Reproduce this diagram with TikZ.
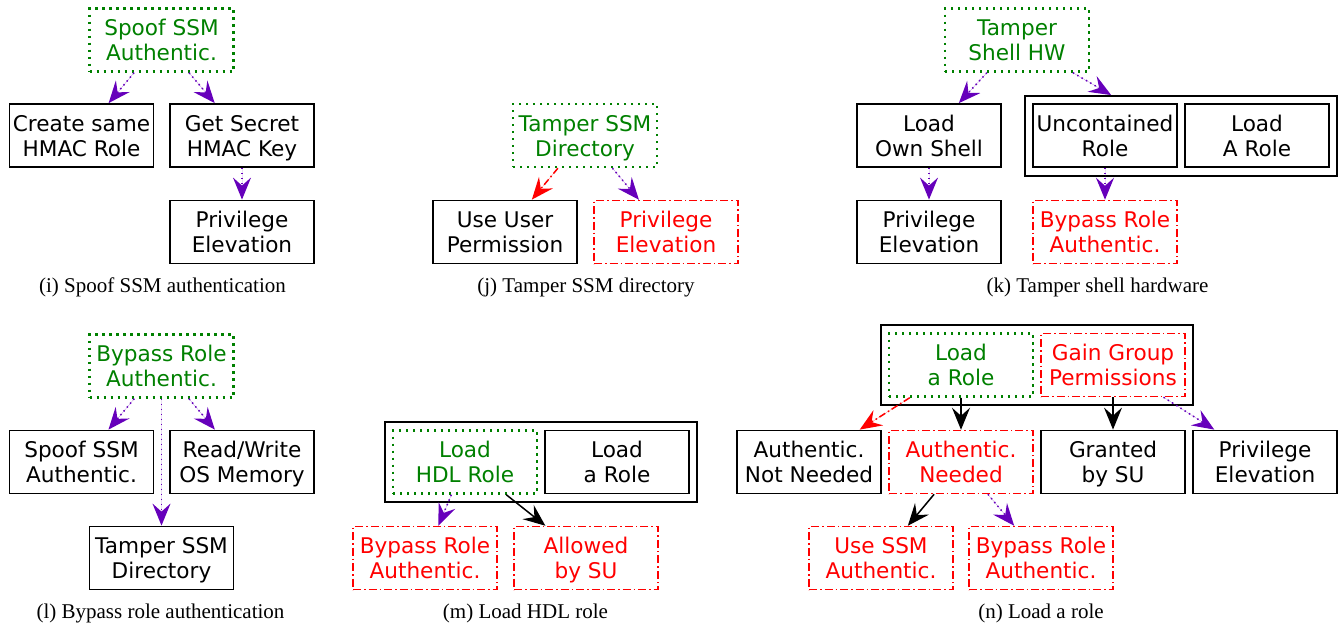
\documentclass[tikz,border=0pt]{standalone}
\usepackage{fontspec}
\setmainfont{Liberation Serif}
\newfontfamily\dejavu{DejaVu Sans}
\usetikzlibrary{arrows.meta}
\definecolor{pp}{RGB}{102,0,187}
\definecolor{gg}{RGB}{0,128,0}
\definecolor{rr}{RGB}{255,0,0}
\tikzset{
  box/.style={draw, line width=1.8pt, minimum width=144pt, minimum height=63pt, inner sep=0pt, align=center, text height=41pt, text depth=0pt, font=\dejavu\fontsize{21.6}{25}\selectfont},
  gbox/.style={box, draw=gg, text=gg, line width=2.4pt, dash pattern=on 2.4pt off 4.6pt},
  rbox/.style={box, draw=rr, text=rr, line width=1.5pt, dash pattern=on 8pt off 3pt on 1.5pt off 3pt},
  outer/.style={draw, line width=1.8pt, minimum width=312pt, minimum height=80pt, inner sep=0pt},
  arrowtip/.style={-{Stealth[length=22pt, width=18pt, inset=8pt]}},
  parrow/.style={arrowtip, draw=pp, fill=pp, line width=1.5pt, dash pattern=on 1.5pt off 3.5pt},
  rarrow/.style={arrowtip, draw=rr, fill=rr, line width=1.5pt, dash pattern=on 7pt off 3pt on 1.5pt off 3pt},
  barrow/.style={arrowtip, draw=black, fill=black, line width=1.5pt},
  captxt/.style={anchor=base, inner sep=0pt, font=\fontsize{21}{24}\selectfont},
}
\begin{document}
\begin{tikzpicture}[x=1pt, y=-1pt]
\useasboundingbox (0,0) rectangle (1344,627);
% (i)
\node[gbox] (i0) at (161.5,40) {Spoof SSM\\Authentic.};
\node[box] (i1) at (81.5,135.5) {Create same\\HMAC Role};
\node[box] (i2) at (242,135.5) {Get Secret\\HMAC Key};
\node[box] (i3) at (242,232) {Privilege\\Elevation};
\draw[parrow] (i0) -- (i1);
\draw[parrow] (i0) -- (i2);
\draw[parrow] (i2) -- (i3);
\node[captxt] (ci) at (162.5,292) {(i) Spoof SSM authentication};
% (j)
\node[gbox] (j0) at (585,135.5) {Tamper SSM\\Directory};
\node[box] (j1) at (505,232) {Use User\\Permission};
\node[rbox] (j2) at (666,232) {Privilege\\Elevation};
\draw[rarrow] (j0) -- (j1);
\draw[parrow] (j0) -- (j2);
\node[captxt] (cj) at (586,292) {(j) Tamper SSM directory};
% (k)
\node[gbox] (k0) at (1017,40) {Tamper\\Shell HW};
\node[box] (k1) at (929,135.5) {Load\\Own Shell};
\node[outer] (ko) at (1181,136) {};
\node[box] (k2) at (1105,135.5) {Uncontained\\Role};
\node[box] (k3) at (1257,135.5) {Load\\A Role};
\node[box] (k4) at (929,232) {Privilege\\Elevation};
\node[rbox] (k5) at (1105,232) {Bypass Role\\Authentic.};
\draw[parrow] (k0) -- (k1);
\draw[parrow] (k0) -- (ko);
\draw[parrow] (k1) -- (k4);
\draw[parrow] (k2) -- (k5);
\node[captxt] (ck) at (1097.5,292) {(k) Tamper shell hardware};
% (l)
\node[gbox] (l0) at (161.5,366) {Bypass Role\\Authentic.};
\node[box] (l1) at (81.5,462) {Spoof SSM\\Authentic.};
\node[box] (l2) at (242,462) {Read/Write\\OS Memory};
\node[box] (l3) at (161.5,558) {Tamper SSM\\Directory};
\draw[parrow] (l0) -- (l1);
\draw[parrow] (l0) -- (l2);
\draw[parrow] (l0) -- (l3);
\node[captxt] (cl) at (160.5,618) {(l) Bypass role authentication};
% (m)
\node[outer] (mo) at (541,462) {};
\node[gbox] (m0) at (465,462) {Load\\HDL Role};
\node[box] (m1) at (617,462) {Load\\a Role};
\node[rbox] (m2) at (425,558) {Bypass Role\\Authentic.};
\node[rbox] (m3) at (586,558) {Allowed\\by SU};
\draw[parrow] (m0) -- (m2);
\draw[barrow] (m0) -- (m3);
\node[captxt] (cm) at (525.5,618) {(m) Load HDL role};
% (n)
\node[outer] (no) at (1037,365) {};
\node[gbox] (n0) at (961,365) {Load\\a Role};
\node[rbox] (n1) at (1113,365) {Gain Group\\Permissions};
\node[box] (n2) at (809,462) {Authentic.\\Not Needed};
\node[rbox] (n3) at (961,462) {Authentic.\\Needed};
\node[box] (n4) at (1113,462) {Granted\\by SU};
\node[box] (n5) at (1265,462) {Privilege\\Elevation};
\node[rbox] (n6) at (881,558) {Use SSM\\Authentic.};
\node[rbox] (n7) at (1041,558) {Bypass Role\\Authentic.};
\draw[rarrow] (n0) -- (n2);
\draw[barrow] (n0) -- (n3);
\draw[barrow] (n1) -- (n4);
\draw[parrow] (n1) -- (n5);
\draw[barrow] (n3) -- (n6);
\draw[parrow] (n3) -- (n7);
\node[captxt] (cn) at (1041,618) {(n) Load a role};
\end{tikzpicture}
\end{document}
